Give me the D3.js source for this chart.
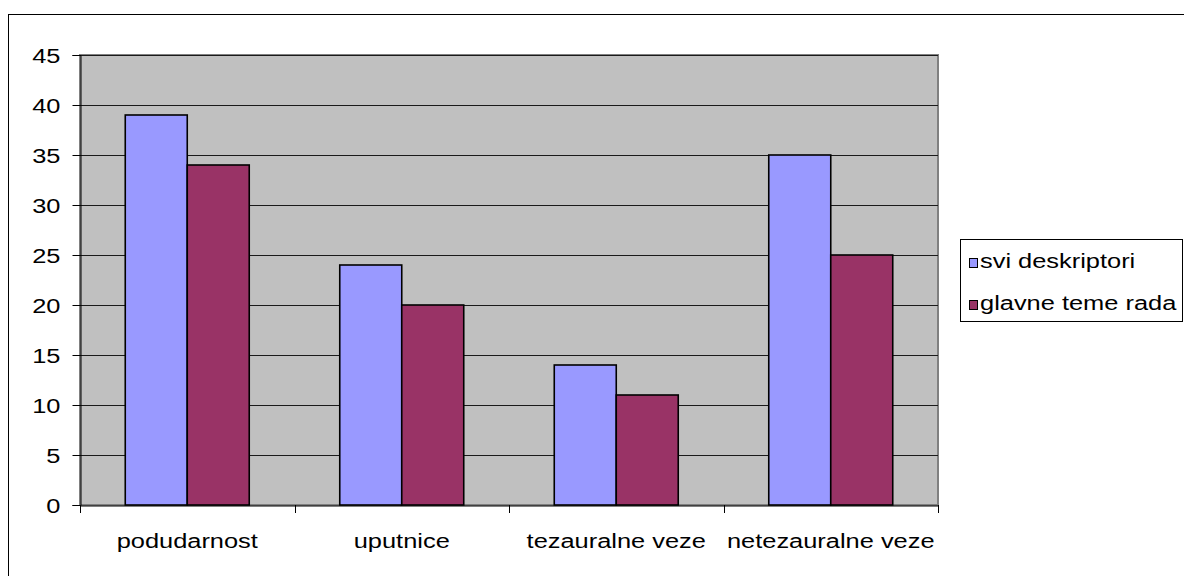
<!DOCTYPE html>
<html><head><meta charset="utf-8">
<script src="https://cdn.jsdelivr.net/npm/d3@7"></script>
<style>html,body{margin:0;padding:0;background:#fff;overflow:hidden}</style>
</head><body>
<svg id="c" width="1184" height="576"></svg>
<script>
const categories = ["podudarnost", "uputnice", "tezauralne veze", "netezauralne veze"];
const seriesNames = ["svi deskriptori", "glavne teme rada"];
const sviDeskriptori = [39, 24, 14, 35];
const glavneTemeRada = [34, 20, 11, 25];
const seriesColors = ["#9999FF", "#993366"];
const yTicks = [0, 5, 10, 15, 20, 25, 30, 35, 40, 45];

const svg = d3.select("#c");
const SX = 1.27, FS = 20, FONT = "'Liberation Sans', Arial, sans-serif";
const L = 80, R = 938, T = 55, B = 505;

// outer chart border
svg.append("rect").attr("x", 8.5).attr("y", 14.5).attr("width", 1300).attr("height", 700)
  .attr("fill", "#fff").attr("stroke", "#000").attr("stroke-width", 1);

const x0 = d3.scaleBand().domain(categories).range([L, R]).paddingInner(0.422).paddingOuter(0.211);
const x1 = d3.scaleBand().domain(seriesNames).range([0, x0.bandwidth()]);
const y = d3.scaleLinear().domain([0, 45]).range([B, T]);

// plot area
svg.append("rect").attr("x", L).attr("y", T).attr("width", R - L).attr("height", B - T)
  .attr("fill", "#C0C0C0").attr("stroke", "#808080").attr("stroke-width", 2);

// gridlines
svg.append("g").selectAll("line").data(yTicks.filter(d => d > 0)).join("line")
  .attr("x1", L).attr("x2", R).attr("y1", d => Math.round(y(d)) + 0.5).attr("y2", d => Math.round(y(d)) + 0.5)
  .attr("stroke", "#1a1a1a").attr("stroke-width", 1);

// bars
const data = categories.map((c, i) => ({ c, vals: [sviDeskriptori[i], glavneTemeRada[i]] }));
const g = svg.append("g").selectAll("g").data(data).join("g")
  .attr("transform", d => `translate(${x0(d.c)},0)`);
g.selectAll("rect").data(d => d.vals.map((v, j) => ({ v, s: seriesNames[j], j }))).join("rect")
  .attr("x", d => x1(d.s)).attr("width", x1.bandwidth())
  .attr("y", d => y(d.v)).attr("height", d => y(0) - y(d.v))
  .attr("fill", d => seriesColors[d.j]).attr("stroke", "#000").attr("stroke-width", 1.6);

// y axis
const ya = svg.append("g").attr("transform", `translate(${L + 0.5},0)`)
  .call(d3.axisLeft(y).tickValues(yTicks).tickSize(8).tickFormat(d3.format("d")));
ya.select(".domain").attr("stroke", "#000");
ya.selectAll(".tick line").attr("stroke", "#000");
ya.selectAll(".tick text").each(function () {
  const t = d3.select(this);
  t.attr("x", null).attr("dy", null).attr("text-anchor", "end")
   .attr("font-family", FONT).attr("font-size", FS).attr("fill", "#000")
   .attr("transform", `translate(-20,7) scale(${SX},1)`);
});

// x axis
const xa = svg.append("g").attr("transform", `translate(0,${B + 0.5})`)
  .call(d3.axisBottom(x0).tickSize(0).tickFormat(""));
xa.select(".domain").attr("stroke", "#000");
xa.selectAll(".tick").remove();
const bounds = d3.range(categories.length + 1).map(i => L + i * x0.step());
svg.append("g").selectAll("line").data(bounds).join("line")
  .attr("x1", d => Math.round(d) + 0.5).attr("x2", d => Math.round(d) + 0.5)
  .attr("y1", B).attr("y2", B + 8).attr("stroke", "#000");
svg.append("g").selectAll("text").data(categories).join("text")
  .attr("transform", d => `translate(${x0(d) + x0.bandwidth() / 2},548) scale(${SX},1)`)
  .attr("text-anchor", "middle").attr("font-family", FONT).attr("font-size", FS).attr("fill", "#000")
  .text(d => d);

// legend
const lg = svg.append("g");
lg.append("rect").attr("x", 960.5).attr("y", 239.5).attr("width", 222).attr("height", 82)
  .attr("fill", "#fff").attr("stroke", "#000").attr("stroke-width", 1);
const rows = lg.selectAll("g").data(seriesNames).join("g")
  .attr("transform", (d, i) => `translate(0,${i * 42})`);
rows.append("rect").attr("x", 969.5).attr("y", 258.5).attr("width", 8).attr("height", 9)
  .attr("fill", (d, i) => seriesColors[i]).attr("stroke", "#000").attr("stroke-width", 1);
rows.append("text").attr("transform", `translate(980,268) scale(${SX},1)`)
  .attr("font-family", FONT).attr("font-size", FS).attr("fill", "#000").text(d => d);
</script>
</body></html>
